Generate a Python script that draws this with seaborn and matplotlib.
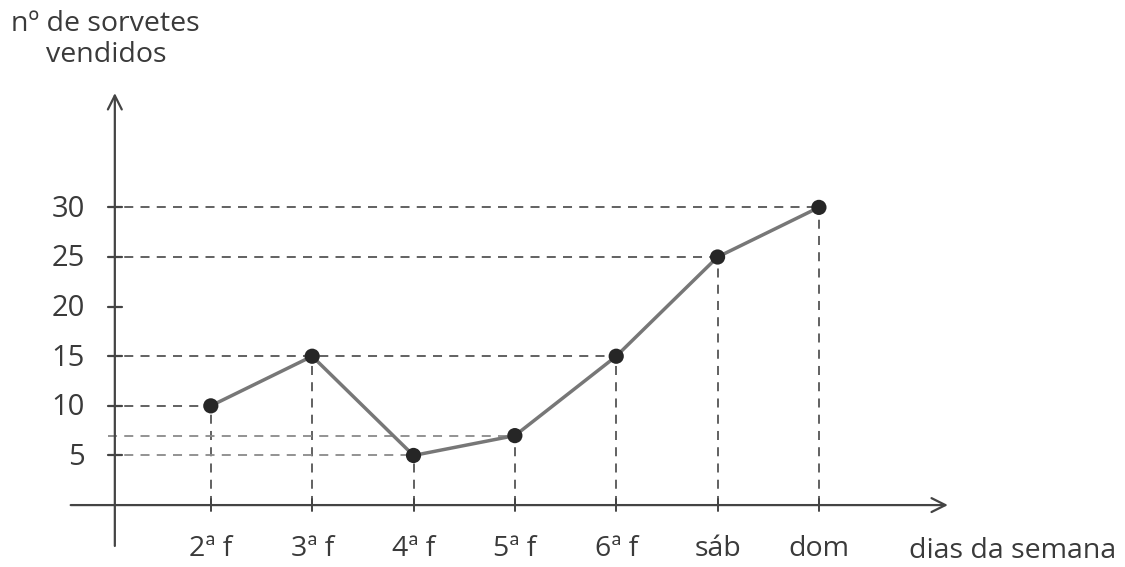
import matplotlib
matplotlib.use("Agg")
import matplotlib.pyplot as plt
import seaborn as sns
import pandas as pd

days = ["2ª f", "3ª f", "4ª f", "5ª f", "6ª f", "sáb", "dom"]
sales = [10, 15, 5, 7, 15, 25, 30]
yticks = [5, 10, 15, 20, 25, 30]

sns.set_theme(style="white")
plt.rcParams['font.family'] = ['Open Sans', 'DejaVu Sans']

df = pd.DataFrame({"idx": list(range(len(days))), "day": days, "sales": sales})

fig = plt.figure(figsize=(11.25, 5.67), dpi=100)
ax = fig.add_axes([0, 0, 1, 1])
ax.set_xlim(-2.08, 9.02)
ax.set_ylim(-6.24, 50.9)
ax.axis("off")

txt = "#3a3a3a"
yax_x = -0.947

# dashed guide lines
for i, v in enumerate(sales):
    xmax = max(j for j, w in enumerate(sales) if w == v)
    if xmax == i:
        col = "#555555" if v not in (5, 7) else "#8a8a8a"
        ax.plot([yax_x - 0.07, i], [v, v], ls=(0, (5, 4)), lw=1.3, color=col, zorder=1)
    ax.plot([i, i], [0, v], ls=(0, (5, 4)), lw=1.3, color="#555555", zorder=1)

# axes with arrows
ax.annotate("", xy=(yax_x, 41.8), xytext=(yax_x, -4.4),
            arrowprops=dict(arrowstyle="->", lw=1.6, color="#444444", mutation_scale=25))
ax.annotate("", xy=(7.3, 0), xytext=(-1.41, 0),
            arrowprops=dict(arrowstyle="->", lw=1.6, color="#444444", mutation_scale=25))

# y ticks
for t in yticks:
    ax.plot([yax_x - 0.07, yax_x + 0.07], [t, t], color="#444444", lw=1.6, zorder=2)
    ax.text(-1.243, t - 0.2, str(t), ha="right", va="center", fontsize=21, color=txt)

# x ticks
for i, d in enumerate(days):
    ax.plot([i, i], [-0.6, 0.6], color="#444444", lw=1.4, zorder=2)
    ax.text(i, -4.4, d, ha="center", va="center", fontsize=20.5, color=txt)

sns.lineplot(data=df, x="idx", y="sales", ax=ax, color="#777777", lw=2.5, zorder=3)
sns.scatterplot(data=df, x="idx", y="sales", ax=ax, color="#262626", s=120,
                edgecolor="none", zorder=4)

ax.text(-1.036, 48.5, "nº de sorvetes", ha="center", va="center", fontsize=20.5, color=txt)
ax.text(-1.036, 45.4, "vendidos", ha="center", va="center", fontsize=20.5, color=txt)
ax.text(7.915, -4.6, "dias da semana", ha="center", va="center", fontsize=20.5, color=txt)

fig.savefig("out.png", dpi=100)
